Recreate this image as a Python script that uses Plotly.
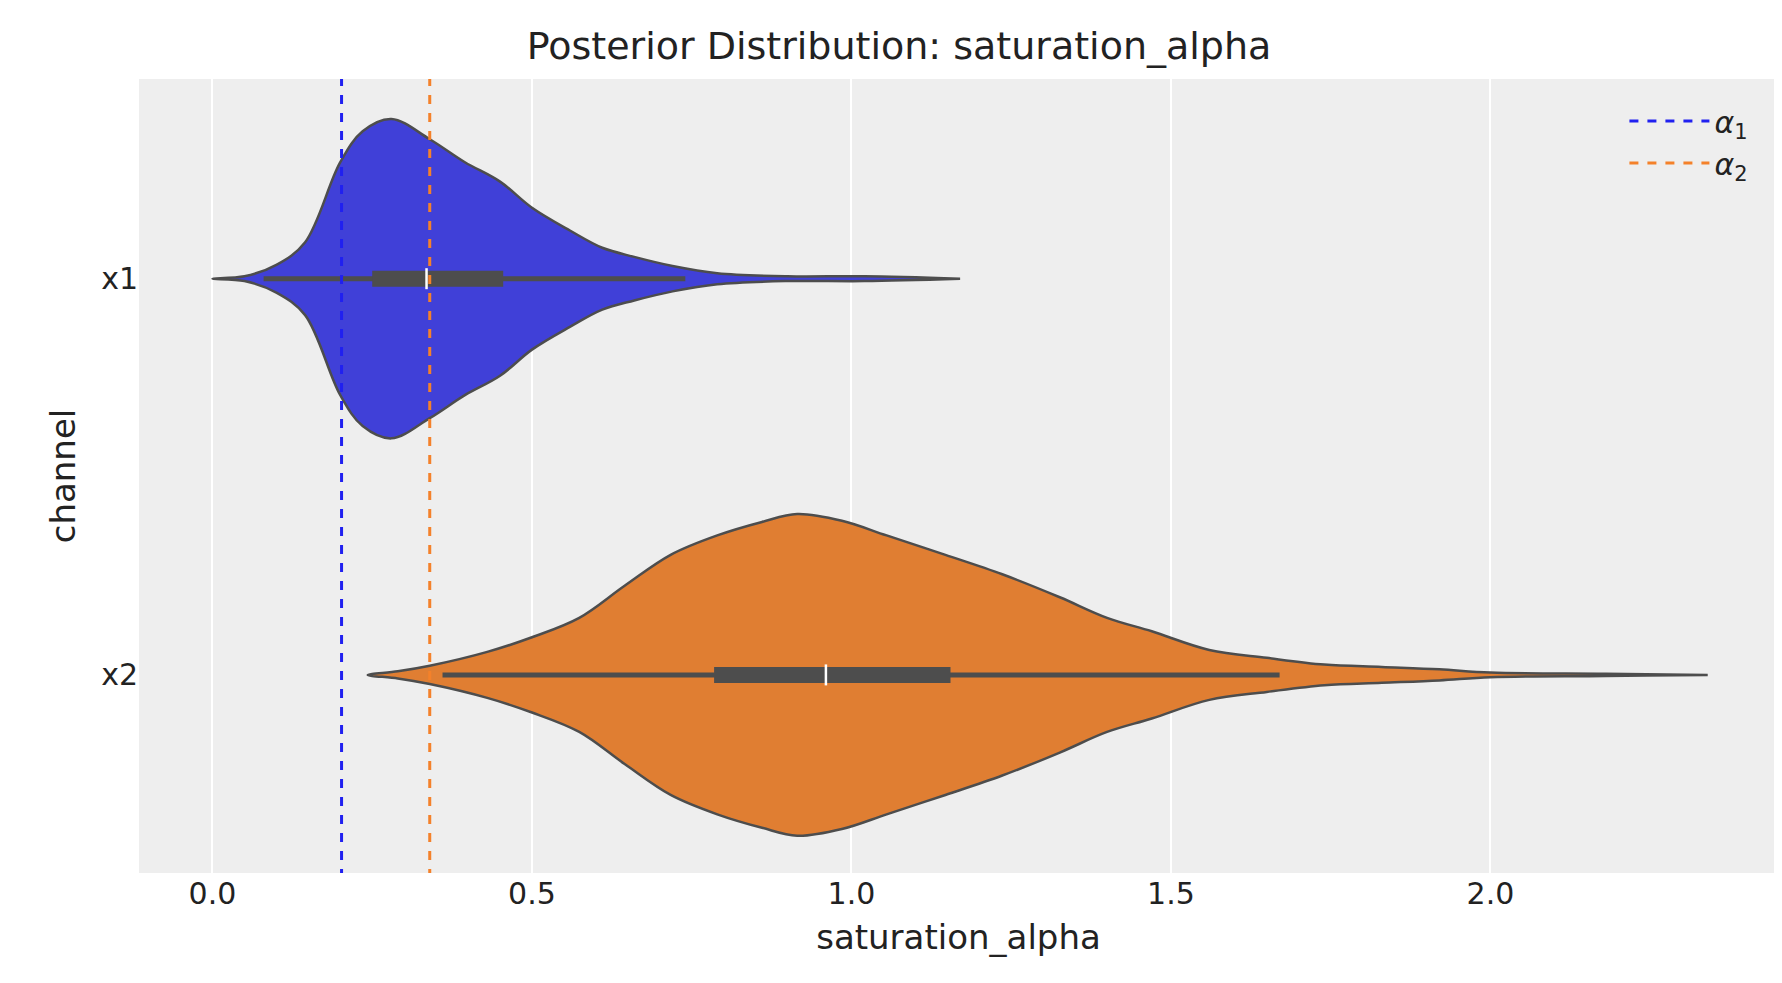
import plotly.graph_objects as go

# density profiles: x value and half-width (in category units)
x1_grid = [0.0, 0.05, 0.10, 0.145, 0.20, 0.235, 0.28, 0.34, 0.395, 0.45, 0.50, 0.56, 0.61, 0.66, 0.72, 0.79, 0.90, 1.02, 1.17]
x1_width = [0.0, 0.006, 0.035, 0.092, 0.294, 0.372, 0.403, 0.352, 0.294, 0.245, 0.179, 0.121, 0.078, 0.055, 0.032, 0.014, 0.006, 0.006, 0.0]

x2_grid = [0.243, 0.29, 0.34, 0.43, 0.50, 0.574, 0.645, 0.717, 0.79, 0.86, 0.915, 0.985, 1.055, 1.147, 1.236, 1.326, 1.40, 1.47, 1.56, 1.65, 1.74, 1.83, 1.92, 2.0, 2.18, 2.34]
x2_width = [0.0, 0.009, 0.023, 0.058, 0.095, 0.144, 0.225, 0.303, 0.352, 0.386, 0.406, 0.389, 0.352, 0.303, 0.254, 0.196, 0.144, 0.110, 0.063, 0.043, 0.026, 0.020, 0.014, 0.006, 0.003, 0.0]

channels = ["x1", "x2"]
whisker_lo = [0.08, 0.36]
whisker_hi = [0.74, 1.67]
q1 = [0.25, 0.785]
q3 = [0.455, 1.155]
medians = [0.335, 0.96]
fills = ["#4040d8", "#e07e32"]

true_alpha = [0.202, 0.34]
line_colors = ["#2020f0", "#f4812a"]
legend_names = ["<i>α</i><sub>1</sub>", "<i>α</i><sub>2</sub>"]

grids = [x1_grid, x2_grid]
widths = [x1_width, x2_width]

fig = go.Figure()

for i, ch in enumerate(channels):
    xs = grids[i] + grids[i][::-1]
    ys = [i - w for w in widths[i]] + [i + w for w in widths[i][::-1]]
    fig.add_trace(go.Scatter(x=xs, y=ys, fill="toself", fillcolor=fills[i], mode="lines",
                             line=dict(color="#4d4d4d", width=2.5, shape="spline", smoothing=1.0),
                             showlegend=False, hoverinfo="skip"))
    fig.add_trace(go.Scatter(x=[whisker_lo[i], whisker_hi[i]], y=[i, i], mode="lines",
                             line=dict(color="#4d4d4d", width=5), showlegend=False))
    fig.add_trace(go.Scatter(x=[q1[i], q3[i]], y=[i, i], mode="lines",
                             line=dict(color="#4d4d4d", width=16), showlegend=False))
    fig.add_trace(go.Scatter(x=[medians[i]], y=[i], mode="markers",
                             marker=dict(symbol="line-ns", size=15, line=dict(color="white", width=2.5)),
                             showlegend=False))

for i in range(2):
    fig.add_trace(go.Scatter(x=[true_alpha[i], true_alpha[i]], y=[-0.6, 1.6], mode="lines",
                             line=dict(color=line_colors[i], width=3, dash="dash"),
                             name=legend_names[i]))

fig.update_layout(
    width=1782, height=983,
    paper_bgcolor="white", plot_bgcolor="#eeeeee",
    font=dict(family="DejaVu Sans", size=30, color="#222222"),
    title=dict(text="Posterior Distribution: saturation_alpha", x=0.5, xanchor="center", y=0.975, font=dict(size=38)),
    margin=dict(l=131, r=12, t=71, b=118),
    legend=dict(x=0.985, y=0.98, xanchor="right", yanchor="top", bgcolor="rgba(0,0,0,0)",
                font=dict(size=30), itemwidth=80, tracegroupgap=10),
    xaxis=dict(title=dict(text="saturation_alpha", font=dict(size=34)), range=[-0.115, 2.45],
               tickvals=[0, 0.5, 1.0, 1.5, 2.0], ticktext=["0.0", "0.5", "1.0", "1.5", "2.0"],
               showgrid=True, gridcolor="white", gridwidth=1.5, zeroline=False, ticks=""),
    yaxis=dict(title=dict(text="channel", font=dict(size=34)), range=[1.5, -0.504],
               tickvals=[0, 1], ticktext=channels, showgrid=False, zeroline=False, ticks=""),
)

fig.write_html("out.html")
